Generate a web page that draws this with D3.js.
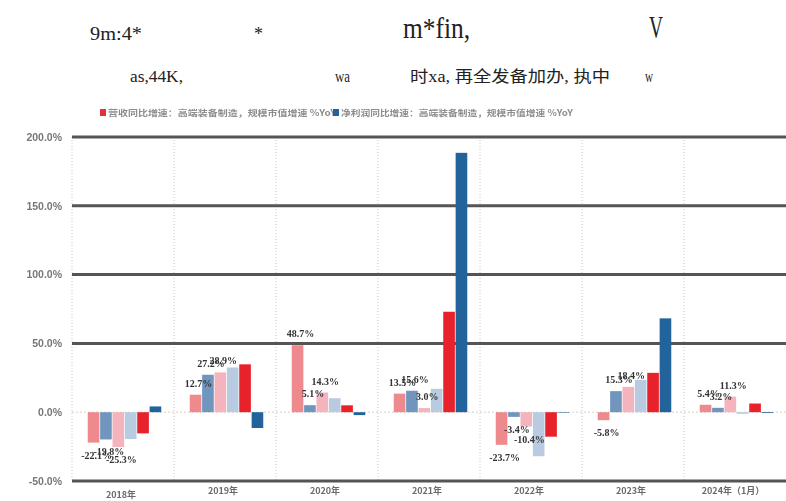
<!DOCTYPE html>
<html>
<head>
<meta charset="utf-8">
<script src="https://cdn.jsdelivr.net/npm/d3@7"></script>
<style>
  html, body { margin: 0; padding: 0; background: #fff; }
  svg { display: block; }
</style>
</head>
<body>
<svg id="chart" width="786" height="501"></svg>
<script>
// ---------- data ----------
const years = ["2018年", "2019年", "2020年", "2021年", "2022年", "2023年", "2024年（1月）"];
const seriesKeys = ["s1", "s2", "s3", "s4", "s5", "s6"];
const s1 = [-22.1, 12.7, 48.7, 13.5, -23.7, -5.8, 5.4];
const s2 = [-19.8, 27.2, 5.1, 15.6, -3.4, 15.3, 3.2];
const s3 = [-25.3, 28.9, 14.3, 3.0, -10.4, 18.4, 11.3];
const s4 = [-19.5, 32.5, 10.2, 17.0, -32.0, 23.5, -1.2];
const s5 = [-15.4, 34.8, 5.0, 73.0, -17.8, 28.6, 6.3];
const s6 = [4.2, -11.5, -2.1, 188.5, -0.4, 68.2, -0.6];
const labelledSeries = ["s1", "s2", "s3"];
const yTicks = [-50, 0, 50, 100, 150, 200];
const legendItems = ["营收同比增速：高端装备制造，规模市值增速 %YoY", "净利润同比增速：高端装备制造，规模市值增速 %YoY"];
const titleRow1 = ["9m:4*", "*", "m*fin,", "V"];
const titleRow2 = ["as,44K,", "wa", "时xa, 再全发备加办, 执中", "w"];

const seriesValues = { s1, s2, s3, s4, s5, s6 };
const colors = { s1: "#ee8a8e", s2: "#7196bd", s3: "#f3b4be", s4: "#b9cbe0", s5: "#e8232c", s6: "#23649b" };

// ---------- layout ----------
const svg = d3.select("#chart");
const plotL = 72, plotR = 786, plotT = 137, plotB = 481;

const x = d3.scaleBand().domain(years).range([plotL, plotR]).padding(0);
const xInner = d3.scaleBand().domain(seriesKeys).range([15, x.bandwidth() - 12]).padding(0.06);
const y = d3.scaleLinear().domain([-50, 200]).range([plotB, plotT]);

// blur filter to mimic the soft scan look
const defs = svg.append("defs");
defs.append("filter").attr("id", "soft").attr("x", "-5%").attr("y", "-5%").attr("width", "110%").attr("height", "110%")
  .append("feGaussianBlur").attr("stdDeviation", 0.55);

// ---------- title texts ----------
const t1 = [
  { t: titleRow1[0], x: 90, w: 52, size: 19, yb: 40 },
  { t: titleRow1[1], x: 254, w: 9, size: 19, yb: 40 },
  { t: titleRow1[2], x: 403, w: 67, size: 30, yb: 38 },
  { t: titleRow1[3], x: 649, w: 14, size: 32, yb: 38 }
];
const t2 = [
  { t: titleRow2[0], x: 130, w: 53, size: 17, yb: 82 },
  { t: titleRow2[1], x: 335, w: 15, size: 17, yb: 82 },
  { t: titleRow2[2], x: 410, w: 200, size: 16, yb: 82 },
  { t: titleRow2[3], x: 645, w: 8, size: 17, yb: 82 }
];
svg.append("g").selectAll("text").data(t1.concat(t2)).join("text")
  .attr("x", d => d.x).attr("y", d => d.yb)
  .attr("font-family", "'Liberation Serif', 'Noto Sans CJK SC', serif")
  .attr("font-size", d => d.size)
  .attr("fill", "#222")
  .attr("textLength", d => d.w)
  .attr("lengthAdjust", "spacingAndGlyphs")
  .text(d => d.t);

// ---------- chart ----------
const g = svg.append("g").attr("filter", "url(#soft)");

// legend
const legendX = [100, 333];
const legendW = [228, 232];
const legendColors = ["#e0303e", "#23649b"];
legendItems.forEach((txt, i) => {
  g.append("rect").attr("x", legendX[i]).attr("y", 109).attr("width", 6).attr("height", 7).attr("fill", legendColors[i]);
  g.append("text").attr("x", legendX[i] + 8).attr("y", 116)
    .attr("font-family", "'Noto Sans CJK SC', sans-serif").attr("font-size", 8.5).attr("font-weight", "bold")
    .attr("fill", "#8c8c8c").attr("textLength", legendW[i]).attr("lengthAdjust", "spacingAndGlyphs")
    .text(txt);
});

// vertical dotted separators
g.append("g").selectAll("line").data(years).join("line")
  .attr("x1", d => x(d)).attr("x2", d => x(d))
  .attr("y1", plotT).attr("y2", plotB)
  .attr("stroke", "#c8c8c8").attr("stroke-width", 1).attr("stroke-dasharray", "1,2");

// zero line (faint)
g.append("line").attr("x1", plotL).attr("x2", plotR).attr("y1", y(0)).attr("y2", y(0))
  .attr("stroke", "#d9d0c8").attr("stroke-width", 1).attr("stroke-dasharray", "2,2");

// thick grid lines
g.append("g").selectAll("line").data(yTicks.filter(v => v !== 0)).join("line")
  .attr("x1", plotL).attr("x2", plotR)
  .attr("y1", d => y(d)).attr("y2", d => y(d))
  .attr("stroke", "#555").attr("stroke-width", 3);

// y axis labels
const yAxis = d3.axisLeft(y).tickValues(yTicks).tickSize(0).tickPadding(10)
  .tickFormat(d => d.toFixed(1) + "%");
const ya = g.append("g").attr("transform", `translate(${plotL},0)`).call(yAxis);
ya.select(".domain").remove();
ya.selectAll("text").attr("font-family", "'Liberation Sans', Arial, sans-serif")
  .attr("font-size", 10.5).attr("font-weight", "bold").attr("fill", "#777");

// bars
const groups = g.append("g").selectAll("g").data(years).join("g")
  .attr("transform", d => `translate(${x(d)},0)`);

groups.selectAll("rect").data((d, i) => seriesKeys.map(k => ({ k, v: seriesValues[k][i] }))).join("rect")
  .attr("x", d => xInner(d.k))
  .attr("width", xInner.bandwidth())
  .attr("y", d => y(Math.max(0, d.v)))
  .attr("height", d => Math.abs(y(d.v) - y(0)))
  .attr("fill", d => colors[d.k]);

// value labels
groups.selectAll("text.val").data((d, i) => labelledSeries.map(k => ({ k, v: seriesValues[k][i] }))).join("text")
  .attr("class", "val")
  .attr("x", d => xInner(d.k) + xInner.bandwidth() / 2 + 3)
  .attr("y", d => d.v >= 0 ? y(d.v) - 8 : y(d.v) + 16)
  .attr("text-anchor", "middle")
  .attr("font-family", "'Liberation Serif', serif")
  .attr("font-size", 10).attr("font-weight", "bold")
  .attr("fill", "#333")
  .text(d => d.v.toFixed(1) + "%");

// x labels
g.append("g").selectAll("text").data(years).join("text")
  .attr("x", d => x(d) + x.bandwidth() / 2 - 2)
  .attr("y", (d, i) => i === 0 ? 498 : 494)
  .attr("text-anchor", "middle")
  .attr("font-family", "'Noto Sans CJK SC', sans-serif")
  .attr("font-size", 9).attr("font-weight", "bold")
  .attr("fill", "#6a6a6a")
  .text(d => d);
</script>
</body>
</html>
